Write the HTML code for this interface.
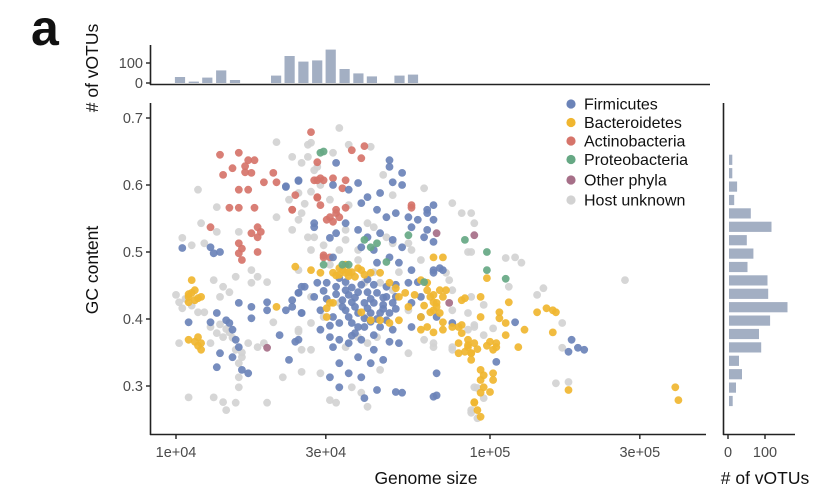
<!DOCTYPE html>
<html><head><meta charset="utf-8">
<style>
html,body{margin:0;padding:0;background:#fff;}
svg{display:block;font-family:"Liberation Sans",Arial,sans-serif;}
</style></head>
<body>
<svg id="fig" width="838" height="502" viewBox="0 0 838 502" xmlns="http://www.w3.org/2000/svg">
<rect width="838" height="502" fill="#fff"/>
<text x="31" y="45" font-size="50" font-weight="bold" fill="#111">a</text>
<g id="topHist"></g>
<g id="rightHist"></g>
<g id="scatter"></g>
<g id="axes"></g>
<g id="legend"></g>
</svg>
<script>
// ---- data: [log10 genome size, GC content] ----
const firmicutes = [[4.02,0.506],[4.11,0.507],[4.12,0.498],[4.14,0.500],[4.20,0.424],[4.24,0.418],[4.29,0.425],[4.29,0.413],[4.13,0.409],[4.16,0.398],[4.17,0.394],[4.18,0.384],[4.04,0.395],[4.11,0.395],[4.19,0.369],[4.20,0.358],[4.18,0.343],[4.14,0.349],[4.13,0.328],[4.23,0.319],[4.21,0.324],[4.24,0.401],[4.35,0.413],[4.37,0.418],[4.39,0.439],[4.40,0.409],[4.33,0.376],[4.38,0.366],[4.36,0.339],[4.40,0.448],[4.35,0.598],[4.39,0.606],[4.44,0.537],[4.51,0.633],[4.50,0.600],[4.50,0.492],
[4.48,0.454],[4.51,0.448],[4.54,0.443],[4.58,0.440],[4.61,0.440],[4.64,0.439],[4.67,0.433],[4.70,0.433],[4.53,0.428],[4.56,0.425],[4.60,0.424],[4.63,0.424],[4.66,0.421],[4.69,0.424],[4.54,0.413],[4.58,0.409],[4.62,0.409],[4.65,0.409],[4.68,0.409],[4.50,0.403],[4.52,0.394],[4.56,0.394],[4.60,0.388],[4.65,0.388],[4.69,0.384],[4.45,0.454],[4.44,0.433],[4.41,0.448],[4.39,0.439],[4.37,0.428],[4.46,0.413],[4.46,0.384],[4.49,0.373],[4.52,0.369],[4.50,0.358],[4.55,0.364],[4.59,0.369],[4.63,0.354],[4.66,0.339],[4.62,0.334],[4.58,0.343],[4.52,0.334],[4.49,0.313],[4.52,0.298],[4.55,0.319],[4.59,0.313],[4.64,0.294],[4.70,0.291],[4.72,0.290],[4.83,0.319],[4.83,0.286],[4.60,0.282],[4.39,0.369],[4.40,0.409],[4.68,0.366],[4.71,0.364],[4.75,0.388],[4.78,0.403],[4.75,0.473],[4.77,0.455],[4.82,0.469],[4.85,0.473],[4.74,0.454],[4.78,0.433],[4.75,0.424],
[4.68,0.637],[4.68,0.627],[4.72,0.618],[4.72,0.600],[4.69,0.604],[4.65,0.588],[4.61,0.582],[4.58,0.603],[4.55,0.593],[4.59,0.573],[4.64,0.563],[4.67,0.552],[4.70,0.558],[4.74,0.552],[4.77,0.548],[4.80,0.563],[4.82,0.570],[4.75,0.537],[4.79,0.522],[4.61,0.522],[4.58,0.533],[4.54,0.543],[4.51,0.528],[4.49,0.521],[4.44,0.543],[4.39,0.607],[4.35,0.597],[4.65,0.528],[4.69,0.518],[4.72,0.507],[4.63,0.503],[4.59,0.507],[4.68,0.492],[4.71,0.484],[4.64,0.484],
[4.80,0.558],[4.82,0.548],[4.80,0.533],[4.82,0.515],[4.82,0.473],[4.84,0.476],[4.83,0.403],[4.88,0.394],[5.08,0.395],[5.02,0.336],[5.26,0.369],[5.28,0.357],[5.30,0.354],[5.25,0.351],[4.82,0.284],
[4.55,0.436],[4.59,0.451],[4.63,0.451],[4.67,0.448],[4.70,0.451],[4.54,0.455],[4.60,0.401],[4.63,0.376],[4.57,0.379],[4.67,0.398],
[4.51,0.437],[4.57,0.432],[4.62,0.430],[4.66,0.432],[4.53,0.418],[4.57,0.418],[4.61,0.416],[4.66,0.415],[4.55,0.403],[4.62,0.396],[4.58,0.388],[4.48,0.430],[4.47,0.442],[4.56,0.447],[4.61,0.459],[4.52,0.461],[4.70,0.415],[4.64,0.400],[4.49,0.390],[4.56,0.375]];
const bacteroidetes = [[4.05,0.458],[4.05,0.439],[4.04,0.433],[4.07,0.431],[4.04,0.425],[4.08,0.433],[4.06,0.443],[4.04,0.369],[4.07,0.373],[4.08,0.364],[4.08,0.354],[4.06,0.366],[4.32,0.418],[4.38,0.478],[4.43,0.473],[4.46,0.469],[4.48,0.416],[4.50,0.424],[4.50,0.469],[4.52,0.466],[4.54,0.469],[4.56,0.470],[4.60,0.466],[4.62,0.469],[4.65,0.469],[4.52,0.476],[4.58,0.476],[4.68,0.454],[4.70,0.446],[4.71,0.433],[4.73,0.439],[4.80,0.454],[4.82,0.492],[4.85,0.492],[4.81,0.433],[4.83,0.424],[4.82,0.413],[4.84,0.409],[4.85,0.433],[4.86,0.443],[4.78,0.403],[4.80,0.388],[4.78,0.384],[4.82,0.380],[4.88,0.388],[4.91,0.391],[4.74,0.418],[4.65,0.398],[4.68,0.394],[4.71,0.398],[4.59,0.410],[4.62,0.398],[4.49,0.424],[4.48,0.403],[4.91,0.428],[4.93,0.369],[4.93,0.358],[4.95,0.364],[4.94,0.349],[4.92,0.351],[4.95,0.275],[4.97,0.254],[4.99,0.461],[4.80,0.443],[4.82,0.436],[4.83,0.418],[4.81,0.410],[4.84,0.443],[4.85,0.395],[4.85,0.384],[4.90,0.388],[4.91,0.379],[4.92,0.431],[4.97,0.433],[5.06,0.425],[4.97,0.403],[5.03,0.410],[5.03,0.401],[5.05,0.394],[5.11,0.384],[5.09,0.358],[5.05,0.376],[4.90,0.364],[4.93,0.361],[4.94,0.349],[4.90,0.349],[4.94,0.339],[5.00,0.366],[5.02,0.364],[5.01,0.354],[5.02,0.358],[4.97,0.324],[4.98,0.316],[5.01,0.319],[5.01,0.309],[4.97,0.309],[4.98,0.298],[5.00,0.291],[4.97,0.290],[4.95,0.276],[4.96,0.264],[5.15,0.410],[5.18,0.416],[5.20,0.413],[5.21,0.410],[5.20,0.380],[5.25,0.294],[5.59,0.298],[5.60,0.279],[4.53,0.473],[4.55,0.464],[4.54,0.481],[4.59,0.473],[4.78,0.458],[4.76,0.436],
[4.51,0.465],[4.57,0.463],[4.55,0.470],[4.04,0.437],[4.06,0.428],[4.07,0.360],[4.82,0.425],[4.79,0.420],[4.99,0.360],[4.96,0.355]];
const actinobacteria = [[4.14,0.645],[4.20,0.648],[4.23,0.637],[4.24,0.618],[4.25,0.637],[4.22,0.619],[4.15,0.615],[4.18,0.625],[4.20,0.593],[4.23,0.593],[4.17,0.566],[4.20,0.566],[4.25,0.566],[4.26,0.537],[4.27,0.530],[4.26,0.522],[4.11,0.537],[4.20,0.513],[4.20,0.498],[4.21,0.488],[4.26,0.500],[4.28,0.604],[4.32,0.604],[4.31,0.618],[4.43,0.679],[4.38,0.585],[4.37,0.563],[4.45,0.582],[4.45,0.607],[4.47,0.607],[4.49,0.552],[4.51,0.558],[4.47,0.495],[4.49,0.492],[4.56,0.652],[4.59,0.640],[4.60,0.658],[4.45,0.634],[4.44,0.607],[4.46,0.610],[4.50,0.610],[4.54,0.607],[4.53,0.595],[4.45,0.581],[4.37,0.563],[4.46,0.570],[4.51,0.563],[4.52,0.552],[4.54,0.566],[4.47,0.492],[4.75,0.570],[4.75,0.566],
[4.22,0.628],[4.24,0.528],[4.21,0.505],[4.48,0.548],[4.50,0.545]];
const proteobacteria = [[4.46,0.648],[4.62,0.507],[4.64,0.513],[4.74,0.525],[4.47,0.481],[4.53,0.481],[4.55,0.481],[4.67,0.485],[4.92,0.518],[4.79,0.455],[4.99,0.500],[4.99,0.473],[5.05,0.460],[4.47,0.650],[4.60,0.518]];
const otherPhyla = [[4.83,0.528],[4.95,0.525],[4.87,0.424],[4.29,0.357]];
const hostUnknown = [[4.07,0.593],[4.13,0.567],[4.08,0.543],[4.13,0.530],[4.02,0.521],[4.05,0.510],[4.09,0.513],[4.20,0.530],[4.00,0.436],[4.02,0.416],[4.01,0.425],[4.09,0.410],[4.07,0.410],[4.12,0.458],[4.15,0.448],[4.17,0.440],[4.14,0.433],[4.19,0.463],[4.24,0.473],[4.26,0.463],[4.29,0.455],[4.24,0.454],[4.11,0.388],[4.13,0.379],[4.15,0.373],[4.17,0.380],[4.19,0.354],[4.21,0.343],[4.20,0.334],[4.23,0.364],[4.26,0.358],[4.28,0.364],[4.31,0.395],[4.01,0.364],[4.11,0.364],[4.04,0.283],[4.12,0.283],[4.15,0.276],[4.16,0.264],[4.19,0.275],[4.29,0.275],[4.20,0.298],[4.20,0.313],[4.34,0.313],[4.40,0.321],[4.43,0.354],[4.39,0.384],[4.47,0.403],[4.43,0.433],[4.39,0.473],[4.32,0.664],[4.52,0.685],[4.32,0.552],[4.37,0.533],[4.40,0.558],[4.44,0.522],[4.42,0.642],[4.43,0.663],[4.40,0.633],[4.45,0.627],[4.50,0.648],[4.42,0.660],[4.37,0.642],[4.44,0.622],[4.39,0.588],[4.36,0.578],[4.39,0.548],[4.42,0.522],[4.43,0.503],[4.55,0.660],[4.62,0.657],[4.66,0.615],[4.69,0.585],[4.79,0.595],[4.88,0.573],[4.91,0.558],[4.94,0.558],[4.93,0.500],[4.86,0.469],[4.88,0.443],[4.61,0.543],[4.63,0.537],[4.67,0.522],[4.69,0.513],[4.74,0.513],[4.75,0.503],[4.78,0.488],[4.58,0.503],[4.54,0.518],[4.52,0.503],[4.58,0.488],[4.60,0.454],[4.65,0.454],[4.69,0.443],[4.74,0.413],[4.52,0.424],[4.61,0.403],[4.58,0.373],[4.54,0.358],[4.61,0.364],[4.64,0.373],[4.43,0.394],[4.39,0.381],[4.40,0.354],[4.46,0.319],[4.49,0.279],[4.51,0.275],[4.56,0.298],[4.59,0.290],[4.61,0.269],[4.65,0.324],[4.74,0.349],[4.79,0.369],[4.82,0.358],[4.88,0.354],[4.88,0.413],[4.93,0.384],[4.95,0.388],[4.94,0.264],[4.95,0.298],[4.95,0.543],[4.94,0.500],[5.05,0.491],[5.08,0.492],[5.10,0.484],[5.06,0.448],[5.15,0.436],[5.17,0.446],[5.43,0.458],[4.94,0.433],[4.98,0.421],[4.93,0.409],[4.95,0.391],[4.98,0.376],[5.01,0.386],[4.88,0.358],[4.82,0.364],[5.23,0.394],[5.23,0.357],[5.21,0.304],[5.25,0.306],[4.94,0.260],[4.96,0.252],[4.96,0.297],[4.98,0.282],[4.87,0.458],[4.49,0.481],[4.47,0.510],[4.54,0.533],[4.55,0.570],[4.49,0.578],
[4.14,0.392],[4.16,0.385],[4.18,0.372],[4.21,0.350],[4.03,0.430],[4.05,0.420],[4.43,0.590],[4.46,0.600],[4.41,0.572],[4.71,0.470],[4.63,0.470]];

// top marginal histogram (log10 genome size bins)
const topBinStart = [3.995,4.039,4.082,4.126,4.170,4.213,4.257,4.301,4.344,4.388,4.432,4.475,4.519,4.563,4.606,4.650,4.694,4.737];
const topCounts = [30,7,27,63,15,0,0,37,135,107,113,167,70,48,33,0,37,42];
// right marginal histogram (GC bins, upper edge)
const rightBinTop = [0.646,0.626,0.606,0.586,0.566,0.546,0.526,0.506,0.486,0.466,0.446,0.426,0.406,0.386,0.366,0.346,0.326,0.306,0.286];
const rightCounts = [9,9,22,14,59,115,48,66,50,104,106,158,111,81,87,27,35,19,10];

const xTicks = [10000,30000,100000,300000];
const xTickLabels = ["1e+04","3e+04","1e+05","3e+05"];
const yTicks = [0.3,0.4,0.5,0.6,0.7];
const yTickLabels = ["0.3","0.4","0.5","0.6","0.7"];
const topTicks = [0,100];
const rightTicks = [0,100];
const legendLabels = ["Firmicutes","Bacteroidetes","Actinobacteria","Proteobacteria","Other phyla","Host unknown"];

// ---- scales ----
const X = lg => 176 + (lg - 4) * 314;
const Y = gc => 118 + (0.7 - gc) * 670;
const TY = c => 83 - c * 0.2;
const RX = c => 728 + c * 0.37;
const NS = "http://www.w3.org/2000/svg";
function mk(tag, attrs, parent){ const e=document.createElementNS(NS,tag); for(const k in attrs) e.setAttribute(k,attrs[k]); parent.appendChild(e); return e; }

const colors = {firm:"#6b83b8",bact:"#f0b630",act:"#d6746a",pro:"#66a884",oth:"#a66f88",unk:"#d2d2d2"};

// scatter
const sc = document.getElementById("scatter");
const groups = [[hostUnknown,colors.unk,"host-unknown-point"],[actinobacteria,colors.act,"actinobacteria-point"],[firmicutes,colors.firm,"firmicutes-point"],[bacteroidetes,colors.bact,"bacteroidetes-point"],[proteobacteria,colors.pro,"proteobacteria-point"],[otherPhyla,colors.oth,"other-phyla-point"]];
groups.forEach(g=>{
  g[0].forEach(p=>{
    const c = mk("circle",{cx:X(p[0]).toFixed(1),cy:Y(p[1]).toFixed(1),r:3.9,fill:g[1],"fill-opacity":0.92},sc);
    
    
  });
});

// top histogram
const th = document.getElementById("topHist");
const binW = 0.0436*314;
topCounts.forEach((c,i)=>{
  if(c<=0) return;
  const b = mk("rect",{x:(X(topBinStart[i])+0.5).toFixed(1),y:TY(c).toFixed(1),width:(binW-3.5).toFixed(1),height:(83-TY(c)).toFixed(1),fill:"#a3afc3"},th);
  
  
});
// right histogram
const rh = document.getElementById("rightHist");
rightCounts.forEach((c,i)=>{
  const b = mk("rect",{x:729,y:(Y(rightBinTop[i])+0.5).toFixed(1),width:(RX(c)-728).toFixed(1),height:10.2,fill:"#a3afc3"},rh);
  
  
});

// axes
const ax = document.getElementById("axes");
const axc = "#222", tc="#4a4a4a";
function line(x1,y1,x2,y2,name,w){ const l=mk("line",{x1,y1,x2,y2,stroke:axc,"stroke-width":w||1.6},ax);   return l; }
function text(x,y,s,size,anchor,name,fill,rot){ const t=mk("text",{x,y,"font-size":size,"text-anchor":anchor,fill:fill||tc},ax); if(rot) t.setAttribute("transform","rotate(-90 "+x+" "+y+")"); t.textContent=s;   return t; }
// main
line(150.5,103,150.5,435,"y-axis-line");
line(150,434.5,706,434.5,"x-axis-line");
xTicks.forEach((v,i)=>{ const x=X(Math.log10(v)); line(x,435,x,439,"x-tick",1.4); text(x,457,xTickLabels[i],14.5,"middle","x-tick-label"); });
yTicks.forEach((v,i)=>{ const y=Y(v); line(146,y,150,y,"y-tick",1.4); text(143,y+5,yTickLabels[i],14.5,"end","y-tick-label"); });
text(426,484,"Genome size",17.5,"middle","x-axis-title","#111");
text(98,270,"GC content",17.5,"middle","y-axis-title","#111",true);
// top hist axes
line(150.5,45,150.5,85,"top-hist-y-axis");
line(150,84.5,710,84.5,"top-hist-x-axis");
topTicks.forEach(v=>{ const y=TY(v); line(146,y,150,y,"top-hist-tick",1.4); text(143,y+5,String(v),14.5,"end","top-hist-tick-label"); });
text(98,68,"# of vOTUs",17.5,"middle","top-hist-y-title","#111",true);
// right hist axes
line(723.5,103,723.5,435,"right-hist-y-axis");
line(723,434.5,795,434.5,"right-hist-x-axis");
rightTicks.forEach(v=>{ const x=RX(v); line(x,435,x,439,"right-hist-tick",1.4); text(x,457,String(v),14.5,"middle","right-hist-tick-label"); });
text(765,484,"# of vOTUs",17.5,"middle","right-hist-x-title","#111");

// legend
const lg = document.getElementById("legend");
const lcols = [colors.firm,colors.bact,colors.act,colors.pro,colors.oth,colors.unk];
const lys = [104,122.5,141,159.5,180,200];
legendLabels.forEach((s,i)=>{
  const c = mk("circle",{cx:571,cy:lys[i],r:4.6,fill:lcols[i]},lg);
  
  
  const t = mk("text",{x:584,y:lys[i]+5.5,"font-size":16,fill:"#111"},lg);
  t.textContent = s;
  
  
});
</script>
</body></html>
